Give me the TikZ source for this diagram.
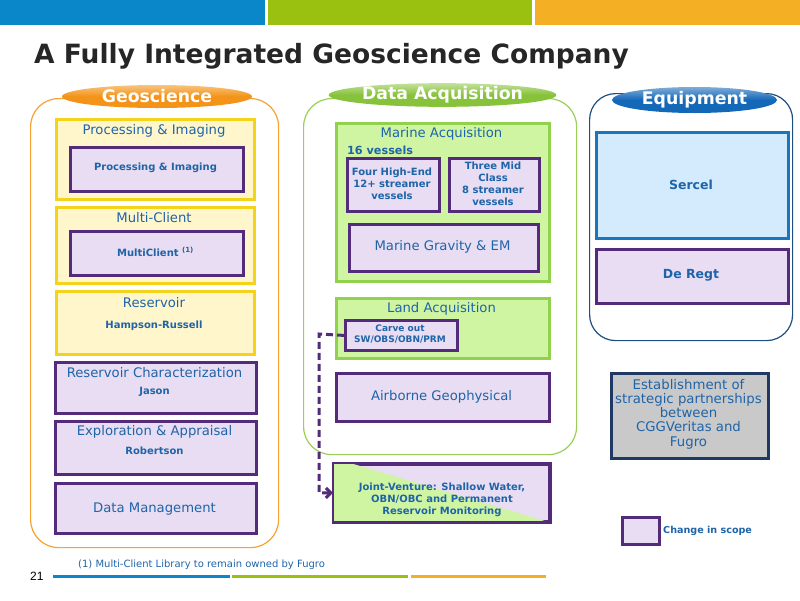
\documentclass[tikz,border=0pt]{standalone}
\usepackage{fontspec}
\setmainfont{DejaVu Sans}
\newfontfamily\arialf{Liberation Sans}
\usetikzlibrary{shapes.geometric,arrows.meta}
\definecolor{topblue}{HTML}{0A87C8}
\definecolor{topgreen}{HTML}{9AC10F}
\definecolor{toporange}{HTML}{F5AF24}
\definecolor{txtblue}{HTML}{1F64A8}
\definecolor{geoor}{HTML}{F7A233}
\definecolor{geoell}{HTML}{F39317}
\definecolor{acqgr}{HTML}{9CCF5A}
\definecolor{acqell}{HTML}{86C23A}
\definecolor{eqbl}{HTML}{1F4E80}
\definecolor{eqell}{HTML}{1468B8}
\definecolor{ygold}{HTML}{F5D31A}
\definecolor{ylight}{HTML}{FFF6CC}
\definecolor{gborder}{HTML}{92D050}
\definecolor{glight}{HTML}{CFF5A3}
\definecolor{pborder}{HTML}{532B7A}
\definecolor{plight}{HTML}{E8DDF2}
\definecolor{bborder}{HTML}{1B75BC}
\definecolor{blight}{HTML}{D3EBFC}
\definecolor{gyborder}{HTML}{1F3864}
\definecolor{gylight}{HTML}{C9C9C9}
\newcommand\mybox[6]{\node[#1,rectangle,inner sep=0pt,anchor=north west,minimum width={(#4-#2)*1pt},minimum height={(#5-#3)*1pt}] (#6) at (#2,#3) {};}
\begin{document}
\begin{tikzpicture}[x=1pt,y=-1pt,
  panel/.style={draw, line width=1.2pt, rounded corners=28pt, fill=white},
  ybox/.style={draw=ygold, fill=ylight, line width=3pt},
  gbox/.style={draw=gborder, fill=glight, line width=2.5pt},
  pbox/.style={draw=pborder, fill=plight, line width=2.8pt},
  bbox/.style={draw=bborder, fill=blight, line width=2.5pt},
  gybox/.style={draw=gyborder, fill=gylight, line width=3pt},
  lbl/.style={ellipse, inner sep=0pt, text=white, font=\fontsize{17.3}{19}\selectfont\bfseries},
  hd/.style={text=txtblue, font=\fontsize{13.2}{15}\selectfont, inner sep=0pt, align=center},
  hdb/.style={text=txtblue, font=\fontsize{12.5}{15}\selectfont\bfseries, inner sep=0pt, align=center},
  sm/.style={text=txtblue, font=\fontsize{10}{12}\selectfont\bfseries, inner sep=0pt, align=center},
  tiny/.style={text=txtblue, font=\fontsize{9}{10.5}\selectfont\bfseries, inner sep=0pt, align=center},
  bar/.style={line width=3pt}]
\useasboundingbox (0,0) rectangle (800,600);
% top bars
\fill[topblue] (0,0) rectangle (265,25);
\fill[topgreen] (268,0) rectangle (532,25);
\fill[toporange] (535,0) rectangle (800,25);
% title
\node[anchor=base west, inner sep=0pt, text=black!85, font=\fontsize{26.5}{30}\selectfont\bfseries] (title) at (34,63) {A Fully Integrated Geoscience Company};

% ===== Geoscience
\mybox{panel,draw=geoor}{30}{98}{278}{547}{geo}
\node[lbl, top color=geoell!55!white, bottom color=geoell, middle color=geoell, minimum width=190pt, minimum height=23pt] (geolbl) at (157,96.5) {Geoscience};
\mybox{ybox}{55}{118}{253}{198}{pi}
\node[hd] (pih) at (154,131) {Processing \& Imaging};
\mybox{pbox}{69}{146}{242}{190}{pii}
\node[sm] (piit) at (155.5,168) {Processing \& Imaging};
\mybox{ybox}{55}{206}{253}{282}{mc}
\node[hd] (mch) at (154,218) {Multi-Client};
\mybox{pbox}{69}{230}{242}{274}{mci}
\node[sm] (mcit) at (155.5,252) {MultiClient \textsuperscript{(1)}};
\mybox{ybox}{55}{290}{253}{353}{res}
\node[hd] (resh) at (154,303) {Reservoir};
\node[sm] (rest) at (154,326) {Hampson-Russell};
\mybox{pbox}{54}{361}{255}{412}{rc}
\node[hd] (rch) at (154.5,373) {Reservoir Characterization};
\node[sm] (rct) at (154.5,392) {Jason};
\mybox{pbox}{54}{420}{255}{473}{ea}
\node[hd] (eah) at (154.5,432) {Exploration \& Appraisal};
\node[sm] (eat) at (154.5,451) {Robertson};
\mybox{pbox}{54}{482}{255}{532}{dm}
\node[hd] (dmt) at (154.5,509) {Data Management};

% ===== Data acquisition
\mybox{panel,draw=acqgr}{303}{98}{576}{454}{acq}
\node[lbl, top color=acqell!50!white, bottom color=acqell, middle color=acqell, minimum width=212pt, minimum height=21pt] (acqlbl) at (442.5,95) {Data Acquisition};
\mybox{gbox}{335}{122}{548}{280}{ma}
\node[hd] (mah) at (441.5,134) {Marine Acquisition};
\node[hd, anchor=west, font=\fontsize{11.2}{14}\selectfont\bfseries] (mav) at (347,150) {16 vessels};
\mybox{pbox}{346}{157}{438}{210}{he}
\node[sm] (het) at (392,184) {Four High-End\\12+ streamer\\vessels};
\mybox{pbox}{448}{157}{538}{210}{mid}
\node[sm] (midt) at (493,184) {Three Mid\\Class\\8 streamer\\vessels};
\mybox{pbox}{348}{223}{537}{270}{mg}
\node[hd] (mgt) at (442.5,247) {Marine Gravity \& EM};
\mybox{gbox}{335}{297}{548}{357}{la}
\node[hd] (lah) at (441.5,309) {Land Acquisition};
\mybox{pbox}{344}{319}{456}{349}{co}
\node[tiny] (cot) at (400,334) {Carve out\\SW/OBS/OBN/PRM};
\mybox{pbox}{335}{372}{548}{420}{ab}
\node[hd] (abt) at (441.5,397) {Airborne Geophysical};
\mybox{pbox}{333}{463}{548}{520}{jv}
\fill[glight] (jv.north west) -- ++(17,0) -- (jv.south east) -- (jv.south west) -- cycle;
\draw[pborder, line width=2.8pt] (jv.north west) rectangle (jv.south east);
\node[sm] (jvt) at (442,500) {Joint-Venture: Shallow Water,\\OBN/OBC and Permanent\\Reservoir Monitoring};
\coordinate (bend) at (319,334);
\draw[pborder, line width=3pt, dash pattern=on 7pt off 4pt, -{Straight Barb[length=5pt,width=10pt]}] (co.west) -- (bend) |- (jv.west);

% ===== Equipment
\mybox{panel,draw=eqbl,rounded corners=26pt}{589}{93}{792}{340}{eq}
\node[lbl, top color=eqell!55!white, bottom color=eqell, middle color=eqell, minimum width=165pt, minimum height=26pt] (eqlbl) at (694.5,100) {Equipment};
\mybox{bbox}{595}{131}{787}{237}{se}
\node[hdb] (set) at (691,185) {Sercel};
\mybox{pbox}{595}{248}{787}{302}{dr}
\node[hdb] (drt) at (691,275) {De Regt};

% partnerships
\mybox{gybox}{610}{372}{767}{457}{sp}
\node[hd, font=\fontsize{13.3}{14.3}\selectfont] (spt) at (688.5,414) {Establishment of\\strategic partnerships\\between\\CGGVeritas and\\Fugro};

% legend
\mybox{pbox}{621}{516}{658}{543}{lg}
\node[sm, anchor=west, font=\fontsize{9.6}{12}\selectfont\bfseries] (lgt) at (663,531) {Change in scope};

% footer
\node[anchor=west, inner sep=0pt, font=\arialf\fontsize{12}{14}\selectfont] (pg) at (30,576) {21};
\node[anchor=west, inner sep=0pt, text=txtblue, font=\fontsize{10}{12}\selectfont] (note) at (78,565) {(1) Multi-Client Library to remain owned by Fugro};
\draw[bar, topblue] (53,576) -- (230,576);
\draw[bar, topgreen] (232,576) -- (408,576);
\draw[bar, toporange] (411,576) -- (546,576);
\end{tikzpicture}
\end{document}
